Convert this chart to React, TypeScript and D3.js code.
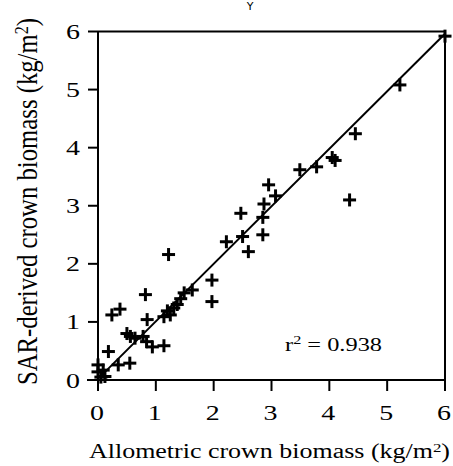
import React from "react";
import * as d3 from "d3";

// Allometric (x) vs SAR-derived (y) crown biomass, kg/m²
const allometric = [
  0.0, 0.0, 0.09, 0.12, 0.05, 0.18, 0.35, 0.55, 0.24, 0.38,
  0.5, 0.56, 0.64, 0.78, 0.84, 0.94, 1.14, 0.85, 0.82, 1.14,
  1.2, 1.25, 1.31, 1.37, 1.43, 1.49, 1.63, 1.22, 1.97, 1.97,
  2.22, 2.47, 2.5, 2.6, 2.85, 2.85, 2.87, 2.95, 3.07, 3.49,
  3.78, 4.05, 4.1, 4.35, 4.45, 5.22, 6.0,
];
const sarDerived = [
  0.26, 0.14, 0.17, 0.06, 0.05, 0.49, 0.26, 0.29, 1.12, 1.22,
  0.8, 0.75, 0.72, 0.75, 0.66, 0.57, 0.59, 1.04, 1.47, 1.09,
  1.19, 1.12, 1.24, 1.3, 1.4, 1.5, 1.55, 2.16, 1.72, 1.35,
  2.38, 2.87, 2.47, 2.21, 2.5, 2.8, 3.03, 3.36, 3.17, 3.62,
  3.67, 3.83, 3.78, 3.1, 4.24, 5.08, 5.92,
];
const xTicks = [0, 1, 2, 3, 4, 5, 6];
const yTicks = [0, 1, 2, 3, 4, 5, 6];
const fitIntercept = 0.02;
const fitSlope = 0.99;
const fitRange = [0.1, 6];
const rSquared = "0.938";

const W = 453;
const H = 466;
const SERIF = '"Liberation Serif", "Times New Roman", Times, "DejaVu Serif", serif';
// glyphs are drawn a little wider than tall
const WIDEN = 1.3;

export default function App() {
  const x = d3.scaleLinear().domain([0, 6]).range([98, 445]);
  const y = d3.scaleLinear().domain([0, 6]).range([380, 31.5]);
  const pts = allometric.map((v, i) => [v, sarDerived[i]] as [number, number]);
  const fitLine = d3
    .line<number>()
    .x((d) => x(d))
    .y((d) => y(fitIntercept + fitSlope * d));
  const arm = 6.5;
  const ink = "#000";

  return (
    <svg
      width={W}
      height={H}
      fontFamily={SERIF}
      style={{ position: "absolute", left: 0, top: 0, background: "#fff" }}
    >
      <rect x={0} y={0} width={W} height={H} fill="#fff" />
      <text x={250} y={10} fontSize={11} fontFamily="DejaVu Sans" textAnchor="middle" fill={ink}>
        Y
      </text>

      {/* frame */}
      <line x1={x(0)} x2={x(6)} y1={y(6)} y2={y(6)} stroke={ink} strokeWidth={2} />
      <line x1={x(6)} x2={x(6)} y1={y(6)} y2={y(0) + 11} stroke={ink} strokeWidth={2} />
      <line x1={x(0)} x2={x(0)} y1={y(6)} y2={y(0)} stroke={ink} strokeWidth={2} />
      <line x1={x(0) - 11} x2={x(6)} y1={y(0)} y2={y(0)} stroke={ink} strokeWidth={2} />

      {/* y axis ticks */}
      {yTicks.map((t) => (
        <g key={"y" + t}>
          <line x1={x(0) - 10} x2={x(0)} y1={y(t)} y2={y(t)} stroke={ink} strokeWidth={2} />
          <g transform={`translate(73, ${y(t) + 7.5}) scale(${WIDEN}, 1)`}>
            <text fontSize={21.5} textAnchor="middle" fill={ink}>
              {t}
            </text>
          </g>
        </g>
      ))}

      {/* x axis ticks */}
      {xTicks.map((t) => (
        <g key={"x" + t}>
          <line x1={x(t)} x2={x(t)} y1={y(0)} y2={y(0) + 11} stroke={ink} strokeWidth={2} />
          <g transform={`translate(${x(t) - 1}, 420) scale(${WIDEN}, 1)`}>
            <text fontSize={21.5} textAnchor="middle" fill={ink}>
              {t}
            </text>
          </g>
        </g>
      ))}

      {/* regression line */}
      <path d={fitLine(fitRange) || ""} fill="none" stroke={ink} strokeWidth={2} />

      {/* observations */}
      {pts.map(([a, b], i) => (
        <g key={i} stroke={ink} strokeWidth={3}>
          <line x1={x(a) - arm} x2={x(a) + arm} y1={y(b)} y2={y(b)} />
          <line x1={x(a)} x2={x(a)} y1={y(b) - arm} y2={y(b) + arm} />
        </g>
      ))}

      <g transform={`translate(285, 351) scale(1.25, 1)`}>
        <text fontSize={19.5} fill={ink}>
          r<tspan dy={-7} fontSize={13}>2</tspan>
          <tspan dy={7}> = {rSquared}</tspan>
        </text>
      </g>

      <text
        x={89}
        y={458}
        fontSize={20}
        fill={ink}
        textLength={361}
        lengthAdjust="spacingAndGlyphs"
      >
        Allometric crown biomass (kg/m<tspan dy={-6} fontSize={13}>2</tspan>
        <tspan dy={6}>)</tspan>
      </text>

      <g transform={`translate(37, 385) rotate(-90) scale(1, ${WIDEN})`}>
        <text fontSize={23} fill={ink} textLength={367} lengthAdjust="spacingAndGlyphs">
          SAR-derived crown biomass (kg/m<tspan dy={-7} fontSize={15}>2</tspan>
          <tspan dy={7}>)</tspan>
        </text>
      </g>
    </svg>
  );
}
